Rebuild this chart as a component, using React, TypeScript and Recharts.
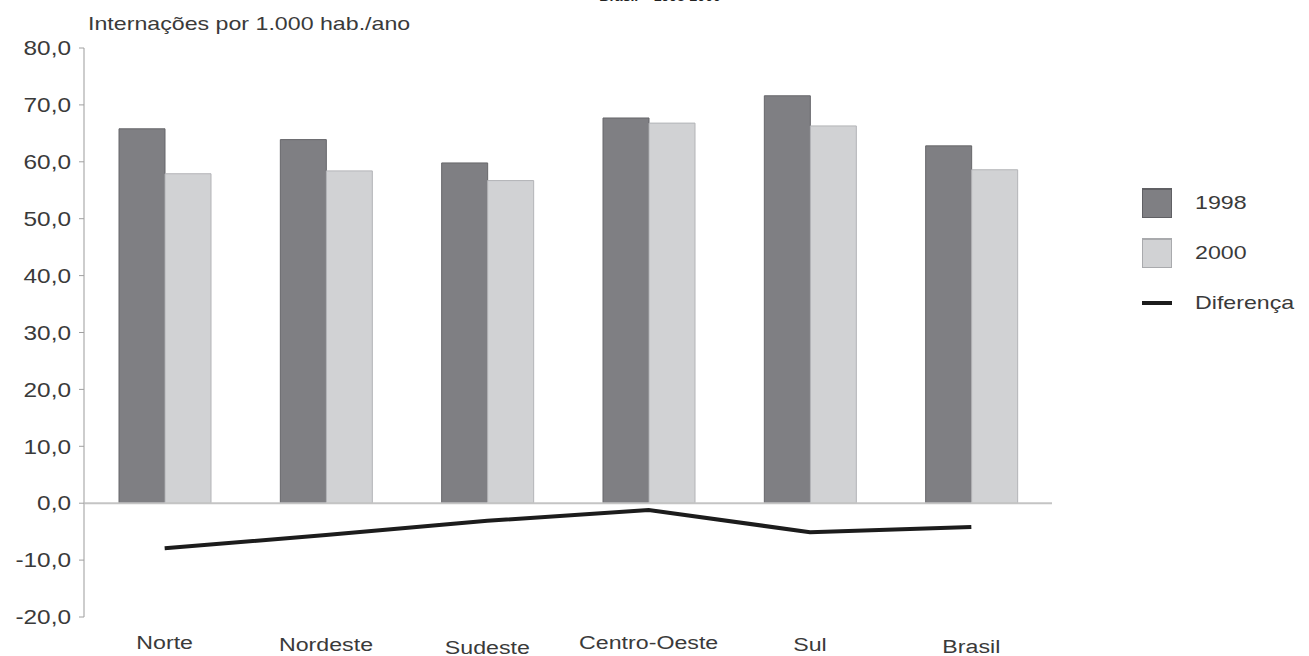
import { ComposedChart, Bar, Line, XAxis, YAxis, ReferenceLine, Legend } from 'recharts'

const categories = ['Norte', 'Nordeste', 'Sudeste', 'Centro-Oeste', 'Sul', 'Brasil']
const values1998 = [65.8, 63.9, 59.8, 67.7, 71.6, 62.8]
const values2000 = [57.9, 58.4, 56.7, 66.8, 66.3, 58.6]
const diferenca = [-7.9, -5.6, -3.1, -1.2, -5.1, -4.2]
const yTicks = [-20, -10, 0, 10, 20, 30, 40, 50, 60, 70, 80]

const data = categories.map((name, i) => ({
  name,
  v1998: values1998[i],
  v2000: values2000[i],
  dif: diferenca[i],
}))

const FONT = '"Liberation Sans", Arial, sans-serif'
const STRETCH = 1.22
// the scanned labels sit a few pixels lower for some regions
const labelDrop = [0, 2, 5, 0, 2, 4]

const formatValue = (v: number) => v.toFixed(1).replace('.', ',')

const YTick = ({ x, y, payload }: any) => (
  <text
    transform={`translate(${x},${y}) scale(${STRETCH},1)`}
    textAnchor="end"
    dy="0.36em"
    fontSize={20}
    fontFamily={FONT}
    fill="#3a3a3a"
  >
    {formatValue(payload.value)}
  </text>
)

const XTick = ({ x, y, payload, index }: any) => (
  <text
    transform={`translate(${x},${y + 25 + (labelDrop[index] || 0)}) scale(${STRETCH},1)`}
    textAnchor="middle"
    dy="0.36em"
    fontSize={19}
    fontFamily={FONT}
    fill="#3a3a3a"
  >
    {payload.value}
  </text>
)

const renderLegend = (props: any) => {
  const { payload } = props
  return (
    <div style={{ fontFamily: FONT }}>
      {payload.map((entry: any) => (
        <div key={entry.value} style={{ display: 'flex', alignItems: 'center', height: 50 }}>
          {entry.type === 'line' ? (
            <div style={{ width: 30, height: 4, background: '#1c1c1c', margin: '0 23px 0 0' }} />
          ) : (
            <div
              style={{
                width: 28,
                height: 27,
                background: entry.color,
                border: `1px solid ${entry.value === '1998' ? '#606064' : '#a9aaad'}`,
                borderTopWidth: 2,
                marginRight: 23,
              }}
            />
          )}
          <span
            style={{
              fontSize: 19,
              color: '#3a3a3a',
              display: 'inline-block',
              transform: `scale(${STRETCH},1)`,
              transformOrigin: 'left center',
              whiteSpace: 'nowrap',
            }}
          >
            {entry.value}
          </span>
        </div>
      ))}
    </div>
  )
}

export default function App() {
  return (
    <div style={{ position: 'absolute', left: 0, top: 0, width: 1309, height: 656, background: '#fff', overflow: 'hidden' }}>
      <div
        style={{
          position: 'absolute',
          left: 0,
          width: 1320,
          top: -12,
          textAlign: 'center',
          fontFamily: FONT,
          fontWeight: 'bold',
          fontSize: 14,
          color: '#222',
        }}
      >
        Brasil – 1998-2000
      </div>
      <div
        style={{
          position: 'absolute',
          left: 88,
          top: 13,
          fontFamily: FONT,
          fontSize: 19,
          color: '#3a3a3a',
          transform: `scale(${STRETCH},1)`,
          transformOrigin: 'left top',
          whiteSpace: 'nowrap',
        }}
      >
        Internações por 1.000 hab./ano
      </div>
      <ComposedChart
        width={1309}
        height={656}
        data={data}
        margin={{ top: 48, right: 257, bottom: 0, left: 0 }}
        barCategoryGap={35}
        barGap={0}
      >
        <XAxis
          dataKey="name"
          axisLine={false}
          tickLine={false}
          tickSize={0}
          tickMargin={0}
          height={39}
          tick={<XTick />}
          interval={0}
        />
        <YAxis
          domain={[-20, 80]}
          ticks={yTicks}
          width={84}
          axisLine={{ stroke: '#bdbdbd', strokeWidth: 1.5 }}
          tickLine={{ stroke: '#a0a0a0' }}
          tickSize={5}
          tickMargin={8}
          tick={<YTick />}
          interval={0}
        />
        <ReferenceLine y={0} stroke="#c4c4c4" strokeWidth={2} />
        <Bar dataKey="v1998" name="1998" fill="#7f7f83" stroke="#66666a" strokeWidth={1} isAnimationActive={false} />
        <Bar dataKey="v2000" name="2000" fill="#d1d2d4" stroke="#b3b4b7" strokeWidth={1} isAnimationActive={false} />
        <Line
          dataKey="dif"
          name="Diferença"
          type="linear"
          stroke="#1c1c1c"
          strokeWidth={4}
          dot={false}
          activeDot={false}
          legendType="line"
          isAnimationActive={false}
        />
        <Legend
          layout="horizontal"
          verticalAlign="middle"
          align="center"
          content={renderLegend}
          wrapperStyle={{ position: 'absolute', left: 1142, top: 178, width: 170, height: 150 }}
        />
      </ComposedChart>
    </div>
  )
}
